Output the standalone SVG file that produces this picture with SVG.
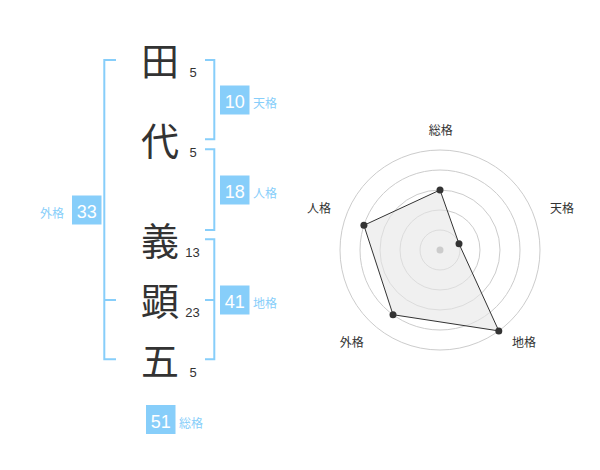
<svg xmlns="http://www.w3.org/2000/svg" width="600" height="470" viewBox="0 0 600 470">
<style>
.ch{font-family:"Noto Sans CJK JP","Noto Sans CJK SC",sans-serif;font-size:38px;fill:#333;text-anchor:middle}
.st{font-family:"Liberation Sans",Arial,sans-serif;font-size:13px;fill:#333;text-anchor:middle}
.box{fill:#87cefa}
.bn{font-family:"Liberation Sans",Arial,sans-serif;font-size:18px;fill:#fff;text-anchor:middle}
.lb{font-family:"Noto Sans CJK JP","Noto Sans CJK SC",sans-serif;font-size:12px;fill:#87cefa}
.br{fill:none;stroke:#87cefa;stroke-width:2}
.ring{fill:none;stroke:#ccc;stroke-width:1}
.rl{font-family:"Noto Sans CJK JP","Noto Sans CJK SC",sans-serif;font-size:12px;fill:#333;text-anchor:middle}
.dot{fill:#333}
</style>
<rect width="600" height="470" fill="#fff"/>
<g id="connectors">
<path class="br" d="M205,60H214.3V139.3H205"/>
<path class="br" d="M205,149.3H214.3V230H205"/>
<path class="br" d="M205,239.3H214.3V359.3H205M205,300H214.3"/>
<path class="br" d="M116,60H104.3V359.3H116M104.3,300H116"/>
</g>
<g id="char-1"><text class="ch" x="160" y="75">田</text><text class="st" x="193" y="77">5</text></g>
<g id="char-2"><text class="ch" x="160" y="155">代</text><text class="st" x="193" y="157">5</text></g>
<g id="char-3"><text class="ch" x="160" y="255">義</text><text class="st" x="192.5" y="257">13</text></g>
<g id="char-4"><text class="ch" x="160" y="315">顕</text><text class="st" x="192.5" y="317">23</text></g>
<g id="char-5"><text class="ch" x="160" y="375">五</text><text class="st" x="193" y="377">5</text></g>
<g id="tenkaku"><rect class="box" x="220" y="85.5" width="29.5" height="29"/><text class="bn" x="234.7" y="108">10</text><text class="lb" x="253" y="108">天格</text></g>
<g id="jinkaku"><rect class="box" x="220" y="175.5" width="29.5" height="29"/><text class="bn" x="234.7" y="198">18</text><text class="lb" x="253" y="198">人格</text></g>
<g id="gaikaku"><rect class="box" x="72" y="195.5" width="29.5" height="29"/><text class="bn" x="86.7" y="218">33</text><text class="lb" x="40" y="218">外格</text></g>
<g id="chikaku"><rect class="box" x="220" y="285.5" width="29.5" height="29"/><text class="bn" x="234.7" y="308">41</text><text class="lb" x="253" y="308">地格</text></g>
<g id="sokaku"><rect class="box" x="146" y="405" width="29.5" height="29"/><text class="bn" x="160.7" y="427.5">51</text><text class="lb" x="179" y="427.5">総格</text></g>
<g id="radar">
<circle class="ring" cx="440" cy="250" r="20"/>
<circle class="ring" cx="440" cy="250" r="40"/>
<circle class="ring" cx="440" cy="250" r="60"/>
<circle class="ring" cx="440" cy="250" r="80"/>
<circle class="ring" cx="440" cy="250" r="100"/>
<polygon points="440,190 459,243.8 498.8,330.9 393,314.7 363.9,225.3" fill="#e6e6e6" fill-opacity="0.6" stroke="#333" stroke-width="1"/>
<circle cx="440" cy="250" r="3.5" fill="#ccc"/>
<circle class="dot" cx="440" cy="190" r="3.5"/>
<circle class="dot" cx="459" cy="243.8" r="3.5"/>
<circle class="dot" cx="498.8" cy="330.9" r="3.5"/>
<circle class="dot" cx="393" cy="314.7" r="3.5"/>
<circle class="dot" cx="363.9" cy="225.3" r="3.5"/>
<text class="rl" x="440.7" y="135">総格</text>
<text class="rl" x="562" y="212.5">天格</text>
<text class="rl" x="319" y="213">人格</text>
<text class="rl" x="351.7" y="346.5">外格</text>
<text class="rl" x="524" y="346.5">地格</text>
</g>
</svg>
